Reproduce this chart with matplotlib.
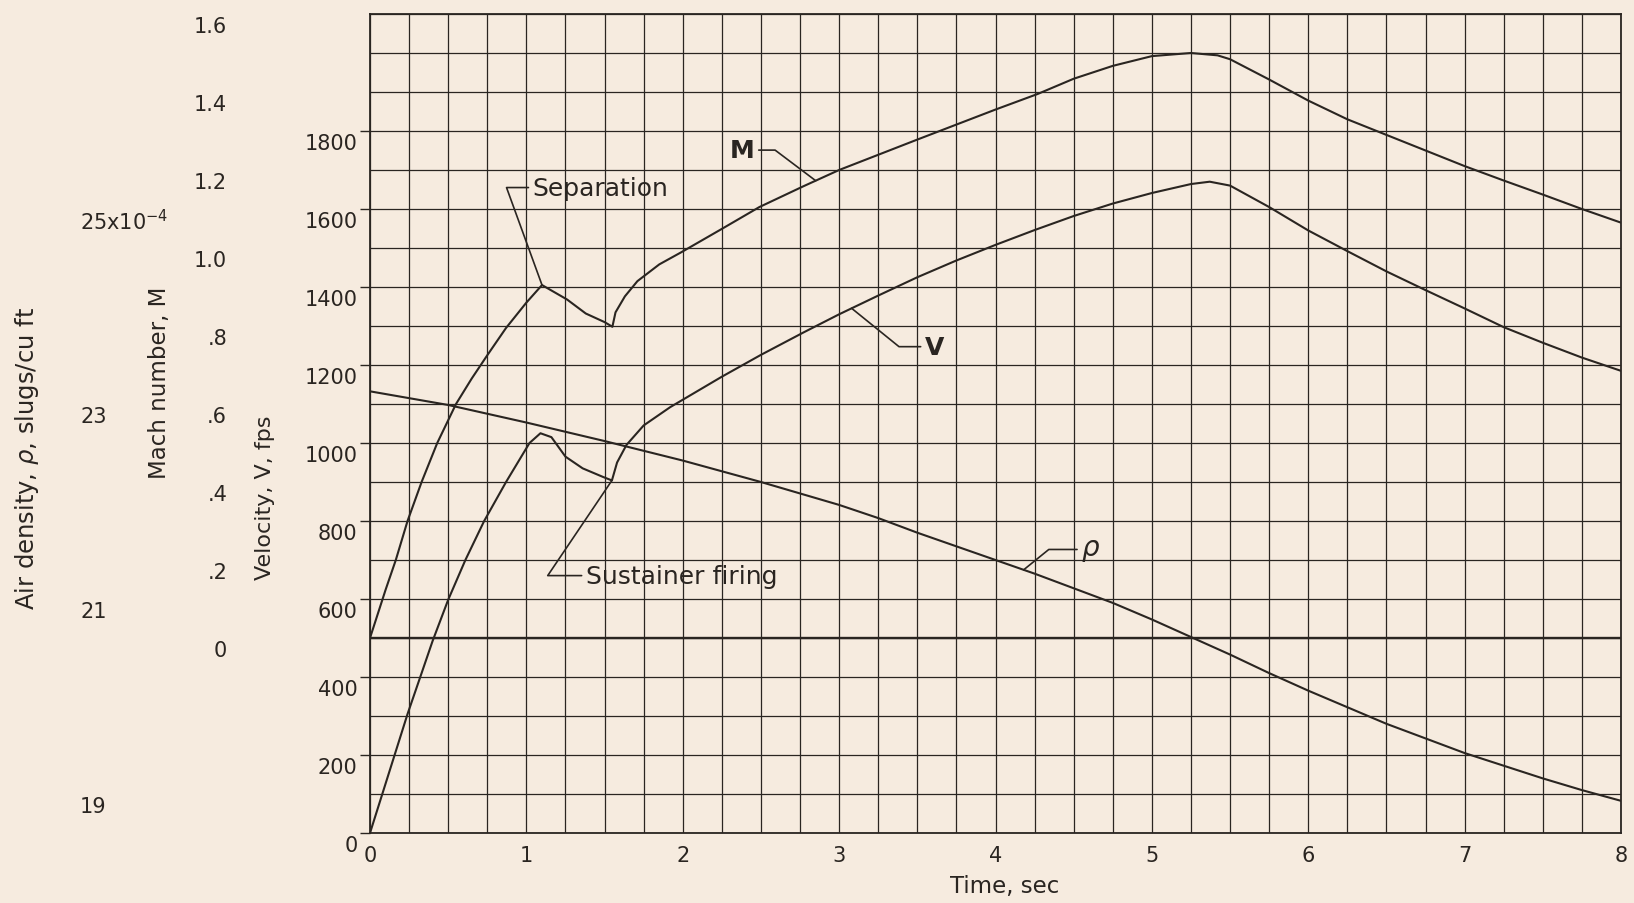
import numpy as np
import matplotlib
matplotlib.use("Agg")
import matplotlib.pyplot as plt
import matplotlib.transforms as mtransforms

# Mach number vs time
time_mach = [0, 0.10, 0.165, 0.24, 0.33, 0.43, 0.55, 0.65, 0.75, 0.87, 1.0, 1.1,
             1.26, 1.38, 1.5, 1.55, 1.57, 1.63, 1.71, 1.85, 1.99, 2.25, 2.49, 2.77,
             3.0, 3.5, 4.0, 4.27, 4.5, 4.75, 5.0, 5.25, 5.42, 5.5, 5.75, 6.0, 6.25,
             6.5, 6.75, 7.0, 7.25, 7.5, 7.75, 8.0]
mach = [0, 0.124, 0.20, 0.30, 0.40, 0.50, 0.60, 0.665, 0.725, 0.795, 0.86, 0.905,
        0.868, 0.832, 0.81, 0.798, 0.835, 0.876, 0.915, 0.958, 0.989, 1.049, 1.105, 1.158,
        1.20, 1.278, 1.355, 1.395, 1.434, 1.467, 1.492, 1.50, 1.494, 1.484, 1.432, 1.378, 1.33,
        1.29, 1.25, 1.21, 1.173, 1.137, 1.10, 1.065]

# Velocity (fps) vs time
time_vel = [0, 0.24, 0.33, 0.40, 0.50, 0.61, 0.73, 0.87, 1.02, 1.09, 1.16, 1.25,
            1.36, 1.49, 1.547, 1.58, 1.64, 1.75, 1.92, 2.25, 2.5, 2.77, 3.0, 3.25,
            3.5, 3.75, 4.0, 4.25, 4.5, 4.75, 5.0, 5.25, 5.37, 5.5, 5.75, 6.0, 6.25,
            6.5, 6.75, 7.0, 7.25, 7.5, 7.75, 8.0]
velocity = [0, 305, 410, 492, 598, 700, 800, 900, 1000, 1025, 1015, 965,
            935, 913, 904, 950, 995, 1045, 1092, 1170, 1226, 1283, 1330, 1378,
            1425, 1468, 1508, 1546, 1582, 1614, 1641, 1664, 1670, 1660, 1605, 1545, 1492,
            1440, 1392, 1345, 1297, 1257, 1219, 1185]

# Air density (x10^-4 slugs/cu ft) vs time
time_rho = [0, 0.5, 1, 1.5, 2, 2.5, 3, 3.25, 3.5, 3.75, 4, 4.25, 4.5, 4.75, 5,
            5.25, 5.5, 5.75, 6, 6.25, 6.5, 6.75, 7, 7.25, 7.5, 7.75, 8]
density = [23.13, 22.99, 22.81, 22.62, 22.42, 22.20, 21.965, 21.83, 21.68, 21.54, 21.40,
           21.26, 21.11, 20.96, 20.79, 20.61, 20.43, 20.24, 20.06, 19.89, 19.72, 19.57,
           19.42, 19.29, 19.16, 19.04, 18.93]

vel_ticks = list(range(0, 1801, 200))
mach_ticks = [0, 0.2, 0.4, 0.6, 0.8, 1.0, 1.2, 1.4, 1.6]
mach_labels = ["0", ".2", ".4", ".6", ".8", "1.0", "1.2", "1.4", "1.6"]
rho_ticks = [19, 21, 23, 25]
rho_labels = ["19", "21", "23", "25x10$^{-4}$"]

paper = "#f6ebdf"
ink = "#2a2521"

fig = plt.figure(figsize=(16.34, 9.04), dpi=100)
fig.patch.set_facecolor(paper)
ax = fig.add_axes([370 / 1634, 70 / 904, 1251 / 1634, 819 / 904])
ax.set_facecolor(paper)
ax.set_xlim(0, 8)
ax.set_ylim(0, 2100)

# graph-paper grid: 0.25 s by 100 fps
ax.set_xticks(range(9))
ax.set_xticks(np.arange(0, 8.01, 0.25), minor=True)
ax.set_yticks(vel_ticks)
ax.set_yticks(range(0, 2101, 100), minor=True)
ax.grid(which="both", color=ink, lw=0.9)
ax.set_axisbelow(True)
ax.tick_params(axis="x", which="both", length=0, pad=8.5, labelsize=15, colors=ink)
ax.tick_params(axis="y", which="major", length=7, width=1.0, pad=2, labelsize=15, colors=ink)
ax.tick_params(axis="y", which="minor", length=0)
for s in ax.spines.values():
    s.set_color(ink)
    s.set_linewidth(1.3)

# twin scales share the velocity grid: M = (V - 500)/1000, rho = 19 + (V - 100)/250
ax_m = ax.twinx()
ax_m.set_ylim(-0.5, 1.6)
ax_r = ax.twinx()
ax_r.set_ylim(18.6, 27.0)

for a, pos in ((ax_m, -0.1103), (ax_r, -0.2318)):
    a.yaxis.set_ticks_position("left")
    a.yaxis.set_label_position("left")
    a.spines["left"].set_position(("axes", pos))
    for s in a.spines.values():
        s.set_visible(False)

ax_m.set_yticks(mach_ticks)
ax_m.set_yticklabels(mach_labels)
ax_m.tick_params(axis="y", length=0, pad=3.5, labelsize=15, colors=ink)
ax_r.set_yticks(rho_ticks)
ax_r.set_yticklabels(rho_labels)
ax_r.tick_params(axis="y", length=0, pad=0, labelsize=15, colors=ink)
for lab in ax_r.get_yticklabels():
    lab.set_horizontalalignment("left")

# hand-lettered scale numbers sit a little below their lines
drop = mtransforms.ScaledTranslation(0, -0.1, fig.dpi_scale_trans)
for a in (ax, ax_m, ax_r):
    for lab in a.get_yticklabels():
        lab.set_transform(lab.get_transform() + drop)

# curves
ax_m.axhline(0, color=ink, lw=1.7)
ax_m.plot(time_mach, mach, color=ink, lw=1.5)
ax.plot(time_vel, velocity, color=ink, lw=1.5)
ax_r.plot(time_rho, density, color=ink, lw=1.5)

# axis titles
ax.set_xlabel("Time, sec", fontsize=16.5, color=ink)
ax.xaxis.set_label_coords(0.5076, -0.0647)
ax.xaxis.label.set_va("center")
ax.set_ylabel("Velocity, V, fps", fontsize=16, color=ink)
ax.yaxis.set_label_coords(-0.0839, 0.410)
ax.yaxis.label.set_va("center")
ax_m.set_ylabel("Mach number, M", fontsize=16.5, color=ink)
ax_m.yaxis.set_label_coords(-0.1679, 0.551)
ax_m.yaxis.label.set_va("center")
ax_r.set_ylabel(r"Air density, $\rho$, slugs/cu ft", fontsize=17.5, color=ink)
ax_r.yaxis.set_label_coords(-0.2742, 0.459)
ax_r.yaxis.label.set_va("center")

# callouts
lead = dict(arrowstyle="-", color=ink, lw=1.2, shrinkA=1, shrinkB=0)
i_sep = int(np.argmax(mach[:16]))
ax.annotate("Separation", xy=(time_mach[i_sep], mach[i_sep]), xycoords=ax_m.transData,
            xytext=(1.04, 1655), textcoords=ax.transData, ha="left", va="center",
            fontsize=18, color=ink,
            arrowprops=dict(lead, connectionstyle="angle,angleA=0,angleB=-70,rad=0"))
i_cusp = int(np.argmin(velocity[9:20])) + 9
ax.annotate("Sustainer firing", xy=(time_vel[i_cusp], velocity[i_cusp]), xycoords=ax.transData,
            xytext=(1.38, 660), textcoords=ax.transData, ha="left", va="center",
            fontsize=18, color=ink,
            arrowprops=dict(lead, connectionstyle="angle,angleA=0,angleB=56,rad=0"))
ax.annotate("M", xy=(2.85, np.interp(2.85, time_mach, mach)), xycoords=ax_m.transData,
            xytext=(2.38, 1751), textcoords=ax.transData, ha="center", va="center",
            fontsize=18, fontweight="bold", color=ink,
            arrowprops=dict(lead, connectionstyle="angle,angleA=0,angleB=-37,rad=0"))
ax.annotate("V", xy=(3.08, np.interp(3.08, time_vel, velocity)), xycoords=ax.transData,
            xytext=(3.61, 1247), textcoords=ax.transData, ha="center", va="center",
            fontsize=18, fontweight="bold", color=ink,
            arrowprops=dict(lead, connectionstyle="angle,angleA=0,angleB=-39,rad=0"))
ax.annotate(r"$\rho$", xy=(4.18, np.interp(4.18, time_rho, density)), xycoords=ax_r.transData,
            xytext=(4.61, 727), textcoords=ax.transData, ha="center", va="center",
            fontsize=20, color=ink,
            arrowprops=dict(lead, connectionstyle="angle,angleA=0,angleB=39,rad=0"))

fig.savefig("out.png", dpi=100, facecolor=paper)
